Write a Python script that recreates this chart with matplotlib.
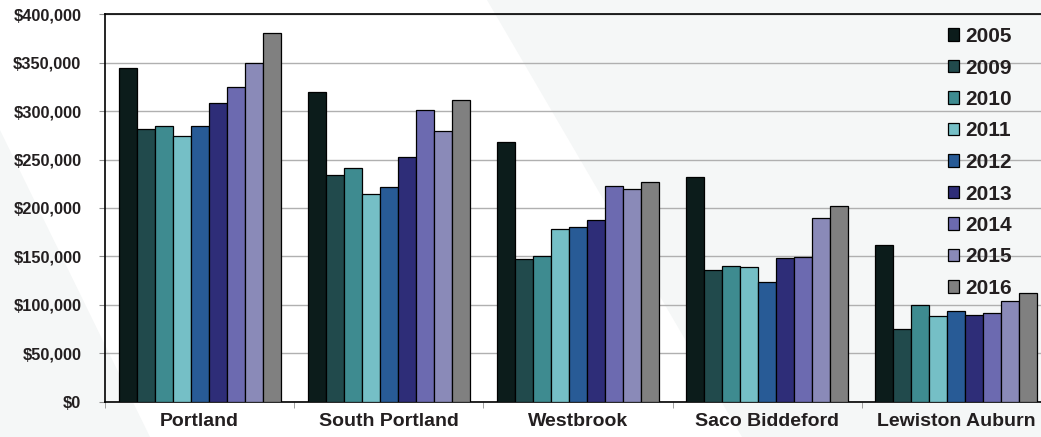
import numpy as np
import matplotlib
matplotlib.use('Agg')
import matplotlib.pyplot as plt
from matplotlib.patches import Polygon
from matplotlib.ticker import FuncFormatter

plt.rcParams['font.family'] = ['Liberation Sans', 'DejaVu Sans']

# data
cities = ['Portland', 'South Portland', 'Westbrook', 'Saco Biddeford', 'Lewiston Auburn']
years = ['2005', '2009', '2010', '2011', '2012', '2013', '2014', '2015', '2016']
v2005 = [345000, 320000, 268000, 232000, 161500]
v2009 = [282000, 234500, 147500, 135500, 75000]
v2010 = [285000, 241000, 150000, 140000, 100000]
v2011 = [274500, 214000, 178000, 139000, 89000]
v2012 = [285000, 222000, 180000, 124000, 94000]
v2013 = [308500, 252500, 188000, 148500, 90000]
v2014 = [325000, 301500, 222500, 149500, 91500]
v2015 = [349500, 280000, 220000, 190000, 104000]
v2016 = [380500, 311500, 226500, 202000, 112000]
series = [v2005, v2009, v2010, v2011, v2012, v2013, v2014, v2015, v2016]
colors = ['#0c1c1b', '#214a4c', '#3e8b90', '#75bfc6', '#285b96',
          '#2e2d78', '#6c6ab0', '#8a8ab8', '#808080']

fig = plt.figure(figsize=(10.41, 4.37), dpi=100, facecolor='white')

# faint background shapes
W, H = 1041, 437
def px(pts):
    return [(x / W, 1 - y / H) for x, y in pts]
fig.patches.append(Polygon(px([(487, 0), (1041, 0), (1041, 437), (742, 437)]),
                           closed=True, transform=fig.transFigure,
                           facecolor='#f5f7f7', edgecolor='none', zorder=-10))
fig.patches.append(Polygon(px([(0, 130), (0, 437), (150, 437)]),
                           closed=True, transform=fig.transFigure,
                           facecolor='#f5f7f7', edgecolor='none', zorder=-10))

ax = fig.add_axes([105 / W, 1 - 401.7 / H, (1051 - 105) / W, (401.7 - 14.3) / H])
ax.set_facecolor('none')

x = np.arange(len(cities))
bw = 0.0952
for i, (vals, c, yr) in enumerate(zip(series, colors, years)):
    ax.bar(x + (i - 4) * bw, vals, width=bw, color=c, edgecolor='black',
           linewidth=0.9, label=yr, zorder=3)

ax.set_xlim(-0.5, 4.5)
ax.set_ylim(0, 400000)
ax.set_yticks(np.arange(0, 400001, 50000))
ax.yaxis.set_major_formatter(FuncFormatter(lambda v, p: '${:,.0f}'.format(v)))
ax.grid(axis='y', color='#b0b0b0', linewidth=1, zorder=0)

ax.set_xticks(x)
ax.set_xticklabels(cities, fontsize=14, fontweight='bold', color='#231f20')
ax.set_xticks(np.arange(-0.5, 5, 1), minor=True)
ax.tick_params(axis='x', which='major', length=0, pad=8)
ax.tick_params(axis='x', which='minor', length=4, color='#909090')
ax.tick_params(axis='y', length=4, color='#909090', pad=13, labelsize=11.8)
for lab in ax.get_yticklabels():
    lab.set_fontweight('bold')
    lab.set_color('#231f20')

for s in ['left', 'top', 'bottom']:
    ax.spines[s].set_color('black')
    ax.spines[s].set_linewidth(1.2)
ax.spines['right'].set_visible(False)

leg = ax.legend(loc='upper left', bbox_to_anchor=(948 / W, 1 - 27 / H),
                bbox_transform=fig.transFigure, frameon=False,
                handlelength=0.55, handleheight=0.55, handletextpad=0.3,
                labelspacing=0.6, borderaxespad=0, borderpad=0,
                prop={'weight': 'bold', 'size': 15})
for t in leg.get_texts():
    t.set_color('#231f20')

fig.savefig('out.png', dpi=100, facecolor=fig.get_facecolor())
